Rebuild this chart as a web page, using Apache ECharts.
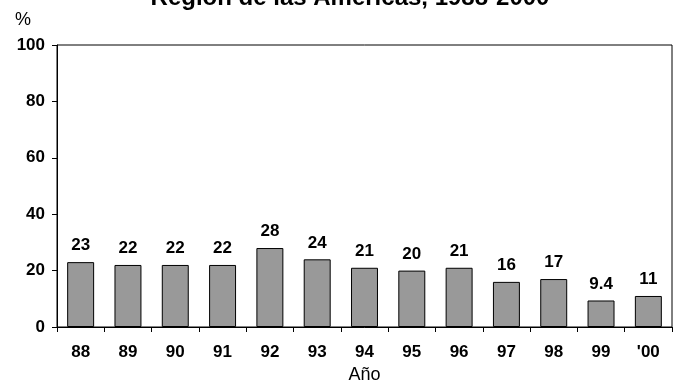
<!DOCTYPE html>
<html>
<head>
<meta charset="utf-8">
<script src="https://cdn.jsdelivr.net/npm/echarts@6/dist/echarts.min.js"></script>
<style>
  html, body { margin: 0; padding: 0; background: #fff; }
  #chart { width: 678px; height: 389px; }
</style>
</head>
<body>
<div id="chart"></div>
<script>
// Years (two-digit labels) and percentages
const years = ['88', '89', '90', '91', '92', '93', '94', '95', '96', '97', '98', '99', "'00"];
const values = [23, 22, 22, 22, 28, 24, 21, 20, 21, 16, 17, 9.4, 11];
const yTicks = [0, 20, 40, 60, 80, 100];

const FONT = 'Liberation Sans, Arial, sans-serif';

const chart = echarts.init(document.getElementById('chart'), null, { renderer: 'canvas' });

chart.setOption({
  animation: false,
  backgroundColor: '#ffffff',
  title: {
    text: 'Región de las Américas, 1988-2000',
    left: 345,
    textAlign: 'center',
    top: -19,
    textStyle: { fontFamily: FONT, fontSize: 24, fontWeight: 'bold', color: '#000' }
  },
  graphic: [{
    type: 'text',
    left: 15,
    top: 11,
    style: { text: '%', font: '18px ' + FONT, fill: '#000' }
  }],
  grid: {
    left: 57, right: 6, top: 45, bottom: 55,
    show: true, borderColor: '#000', borderWidth: 1, backgroundColor: 'transparent'
  },
  xAxis: {
    type: 'category',
    data: years,
    name: 'Año',
    nameLocation: 'middle',
    nameGap: 39,
    nameTextStyle: { fontFamily: FONT, fontSize: 18, color: '#000' },
    axisLine: { lineStyle: { color: '#000', width: 1 } },
    axisTick: { show: true, length: 5, inside: false, lineStyle: { color: '#000' } },
    axisLabel: { fontFamily: FONT, fontSize: 17, fontWeight: 'bold', color: '#000', margin: 17 }
  },
  yAxis: {
    type: 'value',
    min: yTicks[0],
    max: yTicks[yTicks.length - 1],
    interval: 20,
    axisLine: { show: true, lineStyle: { color: '#000', width: 1 } },
    axisTick: { show: true, length: 5, lineStyle: { color: '#000' } },
    splitLine: { show: false },
    axisLabel: { fontFamily: FONT, fontSize: 17, fontWeight: 'bold', color: '#000', margin: 12 }
  },
  series: [{
    type: 'bar',
    data: values,
    barWidth: '57%',
    itemStyle: { color: '#999999', borderColor: '#000', borderWidth: 1 },
    label: {
      show: true,
      position: 'top',
      distance: 8,
      fontFamily: FONT, fontSize: 17, fontWeight: 'bold', color: '#000'
    }
  }]
});
</script>
</body>
</html>
